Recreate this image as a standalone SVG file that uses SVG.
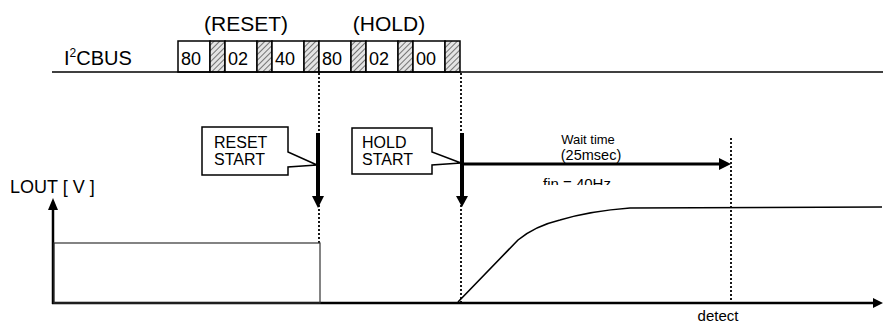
<svg xmlns="http://www.w3.org/2000/svg" width="883" height="327" viewBox="0 0 883 327">
<style>
text{font-family:"Liberation Sans",Arial,sans-serif;fill:#000}
.box{fill:#fff;stroke:#000;stroke-width:1.5}
.hat{fill:url(#hatch);stroke:#000;stroke-width:1.5}
.dot{stroke:#000;stroke-width:1.8;stroke-dasharray:2,2;fill:none}
.ln{stroke:#000;fill:none}
</style>
<defs>
<pattern id="hatch" patternUnits="userSpaceOnUse" width="4" height="4" patternTransform="rotate(45)">
<rect width="4" height="4" fill="#e4e4e4"/>
<line x1="0" y1="0" x2="0" y2="4" stroke="#444" stroke-width="1.4"/>
</pattern>
<clipPath id="finclip"><rect x="500" y="170" width="200" height="15"/></clipPath>
</defs>
<g id="labels">
<text x="246" y="31" font-size="21" text-anchor="middle">(RESET)</text>
<text x="389" y="31" font-size="21" text-anchor="middle">(HOLD)</text>
<text x="64" y="65" font-size="20">I<tspan font-size="12" dy="-8">2</tspan><tspan dy="8">CBUS</tspan></text>
</g>
<g id="bus">
<rect class="box" x="178" y="41" width="32" height="31"/><rect class="hat" x="210" y="41" width="15" height="31"/>
<rect class="box" x="225" y="41" width="32" height="31"/><rect class="hat" x="257" y="41" width="15" height="31"/>
<rect class="box" x="272" y="41" width="32" height="31"/><rect class="hat" x="304" y="41" width="15" height="31"/>
<rect class="box" x="319" y="41" width="32" height="31"/><rect class="hat" x="351" y="41" width="15" height="31"/>
<rect class="box" x="366" y="41" width="32" height="31"/><rect class="hat" x="398" y="41" width="15" height="31"/>
<rect class="box" x="413" y="41" width="32" height="31"/><rect class="hat" x="445" y="41" width="15" height="31"/>
<text x="181" y="65" font-size="18">80</text>
<text x="228" y="65" font-size="18">02</text>
<text x="275" y="65" font-size="18">40</text>
<text x="322" y="65" font-size="18">80</text>
<text x="369" y="65" font-size="18">02</text>
<text x="416" y="65" font-size="18">00</text>
</g>
<g id="connectors">
<line class="ln" x1="52" y1="72" x2="883" y2="72" stroke-width="1.5"/>
<line class="dot" x1="319" y1="73" x2="319" y2="243"/>
<line class="dot" x1="461" y1="73" x2="461" y2="302"/>
<line class="dot" x1="731" y1="138" x2="731" y2="303"/>
<line class="ln" x1="318" y1="133" x2="318" y2="197" stroke-width="4"/>
<polygon points="312,196 324,196 318,208" fill="#000"/>
<line class="ln" x1="462" y1="133" x2="462" y2="197" stroke-width="4"/>
<polygon points="456,196 468,196 462,207" fill="#000"/>
<line class="ln" x1="462" y1="164" x2="720" y2="164" stroke-width="3"/>
<polygon points="719,158 731,164 719,170" fill="#000"/>
<line class="ln" x1="53" y1="304" x2="53" y2="208" stroke-width="2.5"/>
<polygon points="48,210 58,210 53,198" fill="#000"/>
<line class="ln" x1="52" y1="303" x2="874" y2="303" stroke-width="2.5"/>
<polygon points="873,298 883,303 873,308" fill="#000"/>
</g>
<g id="reset-start">
<path class="box" d="M202,127 H288 V152 L317,165 L288,167 V175 H202 Z"/>
<text x="214" y="148" font-size="16">RESET</text>
<text x="214" y="165" font-size="16">START</text>
</g>
<g id="hold-start">
<path class="box" d="M352,128 H432 V152 L461,163 L432,165 V174 H352 Z"/>
<text x="362" y="148" font-size="16">HOLD</text>
<text x="362" y="165" font-size="16">START</text>
</g>
<g id="wait">
<text x="588" y="144" font-size="13" text-anchor="middle">Wait time</text>
<text x="591" y="160" font-size="14.5" text-anchor="middle">(25msec)</text>
<text x="543" y="189" font-size="15" clip-path="url(#finclip)">fin = 40Hz</text>
</g>
<g id="signal">
<text x="10" y="193" font-size="18">LOUT [ V ]</text>
<rect x="54" y="243" width="266" height="60" fill="none" stroke="#333" stroke-width="1.2"/>
<path class="ln" stroke-width="1.6" d="M458,302 L518,240 Q535,226 560,220 Q590,211 630,208 L882,207"/>
<text x="718" y="321" font-size="15" text-anchor="middle">detect</text>
</g>
</svg>
